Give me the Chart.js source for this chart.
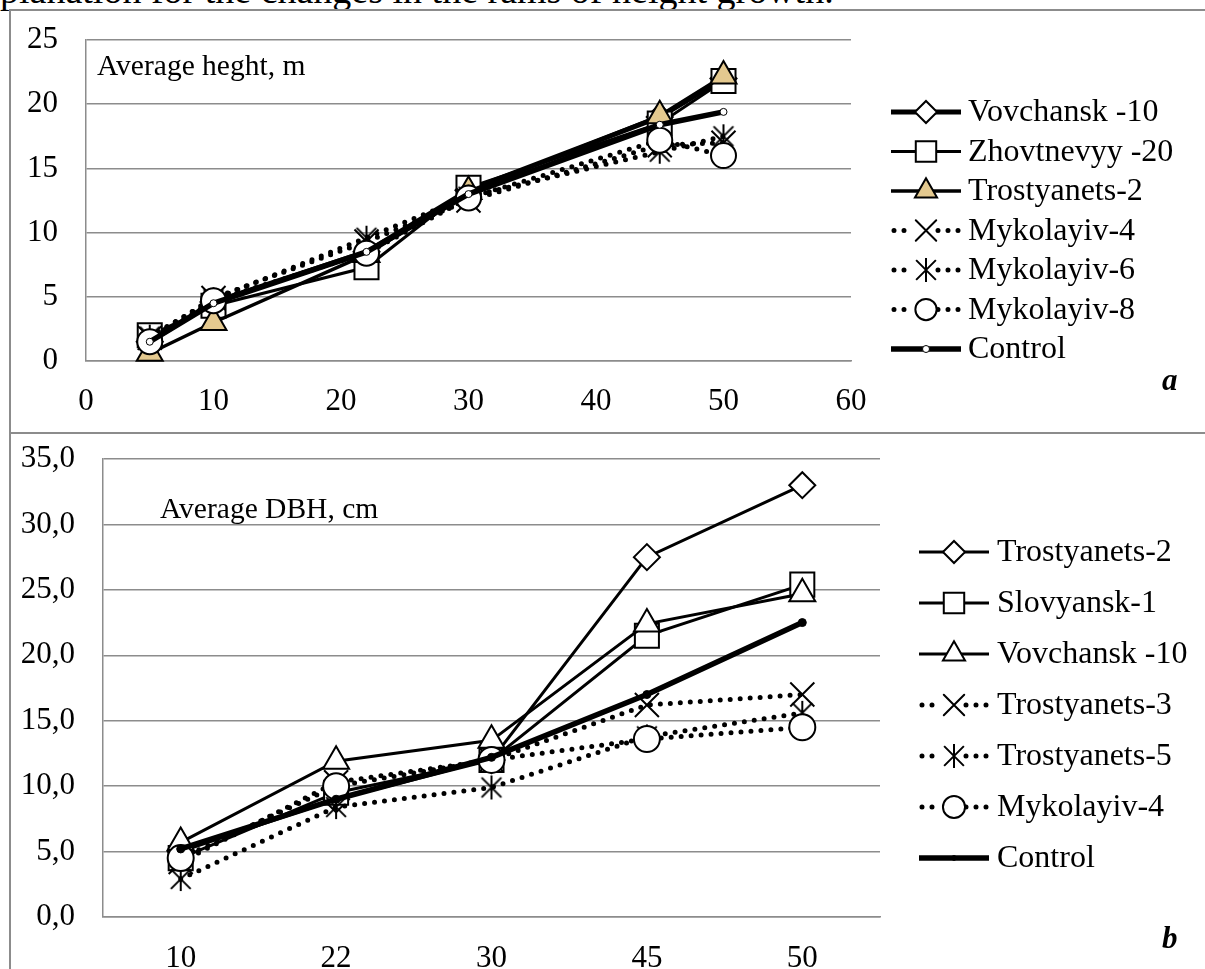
<!DOCTYPE html>
<html>
<head>
<meta charset="utf-8">
<script src="https://cdn.jsdelivr.net/npm/chart.js@4/dist/chart.umd.min.js"></script>
<style>
body { margin: 0; background: #fff; }
#page { position: relative; width: 1205px; height: 969px; overflow: hidden; font-family: 'Liberation Serif', serif; background: #fff; }
canvas { position: absolute; left: 0; }
.rule { position: absolute; background: #8c8c8c; }
.txt { position: absolute; white-space: nowrap; line-height: 1; color: #000; }
</style>
</head>
<body>
<div id="page">
    <div class="txt" style="left:0;top:-29px;font-size:38px">planation for the changes in the rams of height growth.</div>
    <div class="rule" style="left:9px;top:9px;width:1196px;height:2px"></div>
    <div class="rule" style="left:9px;top:9px;width:2px;height:960px"></div>
    <div class="rule" style="left:9px;top:432px;width:1196px;height:2px"></div>
    <canvas id="heightChart" width="1205" height="433" style="top:0"></canvas>
    <canvas id="dbhChart" width="1205" height="536" style="top:433px"></canvas>
    <div class="txt" style="left:97px;top:51px;font-size:29.5px">Average heght, m</div>
    <div class="txt" style="left:160px;top:494px;font-size:29.5px">Average DBH, cm</div>
    <div class="txt" style="left:1162px;top:364px;font-size:31px;font-weight:bold;font-style:italic">a</div>
    <div class="txt" style="left:1162px;top:922px;font-size:31px;font-weight:bold;font-style:italic">b</div>
</div>
<script>
'use strict';

/** Chart a: average height */
const heightAges = [5, 10, 22, 30, 45, 50];
const hVovchansk10 = [1.5, 4.6, 8.5, 13.3, 19.0, 22.0];
const hZhovtnevyy20 = [2.0, 4.3, 7.3, 13.5, 18.5, 21.8];
const hTrostyanets2 = [0.6, 3.0, 8.3, 13.2, 19.1, 22.2];
const hMykolayiv4 = [1.8, 4.9, 9.3, 12.5, 16.8, 17.0];
const hMykolayiv6 = [1.9, 4.8, 9.6, 12.8, 16.3, 17.5];
const hMykolayiv8 = [1.5, 4.7, 8.4, 12.7, 17.2, 16.0];
const hControl = [1.5, 4.5, 8.5, 13.0, 18.4, 19.4];

/** Chart b: average DBH */
const dbhAges = ['10', '22', '30', '45', '50'];
const dTrostyanets2 = [5.0, 9.0, 12.0, 27.5, 33.0];
const dSlovyansk1 = [4.5, 9.5, 12.0, 21.5, 25.4];
const dVovchansk10 = [5.7, 11.9, 13.5, 22.4, 24.7];
const dTrostyanets3 = [4.2, 10.3, 12.0, 16.2, 17.0];
const dTrostyanets5 = [2.9, 8.4, 9.9, 13.8, 15.6];
const dMykolayiv4 = [4.5, 10.0, 12.0, 13.6, 14.5];
const dControl = [5.2, 9.0, 12.2, 17.0, 22.5];

const GRID = '#8c8c8c';
const TAN = '#E4C98F';
const FONT = 'Liberation Serif';

Chart.defaults.font.family = FONT;
Chart.defaults.color = '#000';

// excel-like asterisk: an X with a vertical stroke
function makeAsterisk(size) {
    const c = document.createElement('canvas');
    c.width = size;
    c.height = size;
    const g = c.getContext('2d');
    const m = size / 2;
    const d = size * 0.38;
    g.strokeStyle = '#000';
    g.lineWidth = 2;
    g.beginPath();
    g.moveTo(m - d, m - d); g.lineTo(m + d, m + d);
    g.moveTo(m + d, m - d); g.lineTo(m - d, m + d);
    g.moveTo(m, 1); g.lineTo(m, size - 1);
    g.stroke();
    return c;
}

function series(label, data, s) {
    return {
        label: label,
        data: data,
        borderColor: '#000',
        borderWidth: s.width,
        borderDash: s.dotted ? [0, 10] : [],
        borderCapStyle: s.dotted ? 'round' : 'butt',
        pointStyle: s.marker,
        pointRadius: s.radius,
        pointBackgroundColor: s.fill || '#fff',
        pointBorderColor: '#000',
        pointBorderWidth: s.markerWidth || 2,
        legendScale: s.legendScale || 0.85,
        dotted: !!s.dotted,
        tension: 0,
        clip: false,
    };
}

const sideLegend = {
    id: 'sideLegend',
    afterDraw(chart, args, opts) {
        const ctx = chart.ctx;
        const cx = (opts.x0 + opts.x1) / 2;
        chart.data.datasets.forEach((ds, i) => {
            const y = opts.y0 + i * opts.step;
            const r = ds.pointRadius * ds.legendScale;
            ctx.save();
            ctx.strokeStyle = '#000';
            ctx.lineWidth = ds.borderWidth;
            ctx.setLineDash(ds.borderDash);
            ctx.lineCap = ds.borderCapStyle;
            ctx.beginPath();
            if (ds.dotted) {
                ctx.moveTo(opts.x0 + 3, y); ctx.lineTo(cx - 12, y);
                ctx.moveTo(cx + 12, y); ctx.lineTo(opts.x1, y);
            } else {
                ctx.moveTo(opts.x0, y); ctx.lineTo(opts.x1, y);
            }
            ctx.stroke();
            ctx.setLineDash([]);
            ctx.fillStyle = ds.pointBackgroundColor;
            ctx.strokeStyle = '#000';
            ctx.lineWidth = ds.pointBorderWidth;
            Chart.helpers.drawPoint(ctx, {
                pointStyle: ds.pointStyle,
                radius: r,
                rotation: 0,
                borderWidth: ds.pointBorderWidth,
            }, cx, y);
            ctx.fillStyle = '#000';
            ctx.font = opts.font + 'px "' + FONT + '"';
            ctx.textAlign = 'left';
            ctx.textBaseline = 'middle';
            ctx.fillText(ds.label, opts.textX, y + 1);
            ctx.restore();
        });
    },
};

const asterisk = makeAsterisk(26);

function toPoints(xs, ys) {
    return xs.map((x, i) => ({ x: x, y: ys[i] }));
}

// y ticks: the gap to the axis comes from an invisible tick mark, so it does not pad the top
function yAxis(max, width, labelGap, fmt) {
    return {
        min: 0,
        max: max,
        ticks: { stepSize: 5, padding: 0, font: { size: 31 }, callback: fmt },
        grid: { color: GRID, lineWidth: 1.5, drawTicks: true, tickLength: labelGap, tickColor: 'rgba(0,0,0,0)' },
        border: { display: true, color: GRID, width: 1.5 },
        afterFit: (scale) => { scale.width = width; },
    };
}

const heightChart = new Chart(document.getElementById('heightChart').getContext('2d'), {
    type: 'line',
    data: {
        datasets: [
            series('Vovchansk -10', toPoints(heightAges, hVovchansk10), { width: 5, marker: 'rectRot', radius: 13 }),
            series('Zhovtnevyy -20', toPoints(heightAges, hZhovtnevyy20), { width: 3, marker: 'rect', radius: 17 }),
            series('Trostyanets-2', toPoints(heightAges, hTrostyanets2), { width: 3.5, marker: 'triangle', radius: 15, fill: TAN }),
            series('Mykolayiv-4', toPoints(heightAges, hMykolayiv4), { width: 5, dotted: true, marker: 'crossRot', radius: 17 }),
            series('Mykolayiv-6', toPoints(heightAges, hMykolayiv6), { width: 5, dotted: true, marker: asterisk, radius: 13, legendScale: 1 }),
            series('Mykolayiv-8', toPoints(heightAges, hMykolayiv8), { width: 5, dotted: true, marker: 'circle', radius: 12.5 }),
            series('Control', toPoints(heightAges, hControl), { width: 5.5, marker: 'circle', radius: 3.5, markerWidth: 1, legendScale: 1 }),
        ].map((ds, i, all) => Object.assign(ds, { order: all.length - i })),
    },
    options: {
        responsive: false,
        animation: false,
        devicePixelRatio: 1,
        layout: { padding: { top: 40, right: 354, bottom: 0, left: 0 } },
        plugins: {
            legend: { display: false },
            tooltip: { enabled: false },
            sideLegend: { x0: 891, x1: 961, textX: 968, y0: 112, step: 39.5, font: 32 },
        },
        scales: {
            x: {
                type: 'linear',
                min: 0,
                max: 60,
                ticks: { stepSize: 10, padding: 14, font: { size: 31 } },
                grid: { display: false },
                border: { display: true, color: GRID, width: 1.5 },
                afterFit: (scale) => { scale.height = 72; },
            },
            y: yAxis(25, 86, 28),
        },
    },
    plugins: [sideLegend],
});

const dbhChart = new Chart(document.getElementById('dbhChart').getContext('2d'), {
    type: 'line',
    data: {
        labels: dbhAges,
        datasets: [
            series('Trostyanets-2', dTrostyanets2, { width: 3, marker: 'rectRot', radius: 13 }),
            series('Slovyansk-1', dSlovyansk1, { width: 3, marker: 'rect', radius: 17 }),
            series('Vovchansk -10', dVovchansk10, { width: 3, marker: 'triangle', radius: 15 }),
            series('Trostyanets-3', dTrostyanets3, { width: 5, dotted: true, marker: 'crossRot', radius: 17 }),
            series('Trostyanets-5', dTrostyanets5, { width: 5, dotted: true, marker: asterisk, radius: 13, legendScale: 1 }),
            series('Mykolayiv-4', dMykolayiv4, { width: 5, dotted: true, marker: 'circle', radius: 13 }),
            series('Control', dControl, { width: 5.5, marker: 'circle', radius: 4, fill: '#000', markerWidth: 1, legendScale: 0.6 }),
        ].map((ds, i, all) => Object.assign(ds, { order: all.length - i })),
    },
    options: {
        responsive: false,
        animation: false,
        devicePixelRatio: 1,
        layout: { padding: { top: 26, right: 325, bottom: 0, left: 0 } },
        plugins: {
            legend: { display: false },
            tooltip: { enabled: false },
            sideLegend: { x0: 919, x1: 989, textX: 997, y0: 119, step: 51, font: 32 },
        },
        scales: {
            x: {
                offset: true,
                ticks: { padding: 15, font: { size: 31 } },
                grid: { display: false, offset: true },
                border: { display: true, color: GRID, width: 1.5 },
                afterFit: (scale) => { scale.height = 52; },
            },
            y: yAxis(35, 103, 28, (v) => v.toFixed(1).replace('.', ',')),
        },
    },
    plugins: [sideLegend],
});
</script>
</body>
</html>
